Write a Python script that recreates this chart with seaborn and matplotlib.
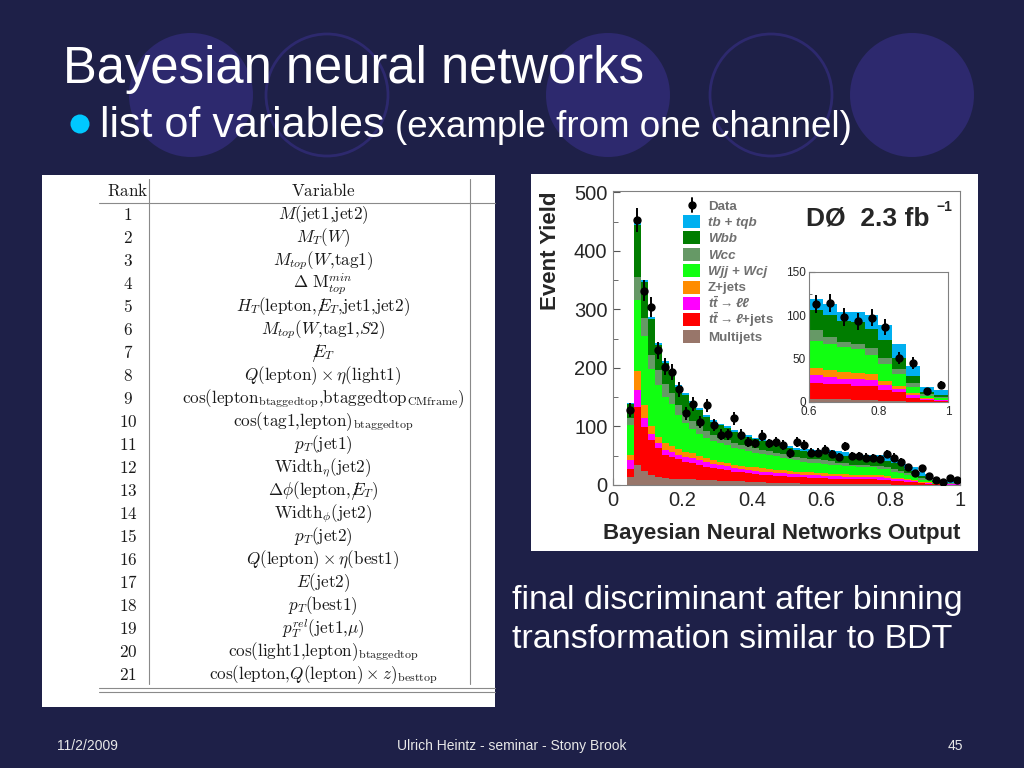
import numpy as np
import pandas as pd
import matplotlib
matplotlib.use("Agg")
import matplotlib.pyplot as plt
from matplotlib.patches import Circle, Rectangle
import seaborn as sns

sns.set_style("white")
plt.rcParams['font.family'] = ['Liberation Sans', 'DejaVu Sans']
plt.rcParams['mathtext.fontset'] = 'custom'
plt.rcParams['mathtext.rm'] = 'Liberation Sans:bold'
plt.rcParams['mathtext.it'] = 'Liberation Sans:italic:bold'
plt.rcParams['mathtext.bf'] = 'Liberation Sans:bold'

# Histogram: 48 bins of 0.02 from 0.04 to 1.0
bin_edges = np.linspace(0.04, 1.0, 49)
bin_centers = bin_edges[:-1] + 0.01

data_counts = [128, 453, 332, 304, 230, 202, 193, 164, 123, 138,
               108, 136, 103, 86, 87, 114, 86, 74, 71, 84,
               71, 74, 68, 54, 73, 68, 55, 55, 60, 53,
               48, 66, 49, 49, 47, 46, 44, 53, 47, 40,
               30, 21, 29, 16, 8, 5, 12, 8]

# stack tops (cumulative, from the top layer down)
top_tb = [140, 448, 350, 287, 243, 212, 196, 171, 157, 143,
          131, 120, 111, 105, 100, 94, 89.5, 85.5, 81, 78,
          74.5, 72, 69, 66, 64, 62, 61, 60, 60, 59,
          57.5, 56, 52.5, 51.5, 52, 52, 50.5, 49.5, 46, 42.5,
          35.5, 31.5, 22.5, 19.5, 9, 8.3, 7, 6.5]
top_wbb = [139, 445, 347, 284, 240, 209, 193, 168, 154, 140,
           128, 117, 108, 102, 97, 91, 86.5, 82.5, 78, 75,
           71.5, 69, 66, 62.5, 60.5, 58, 56.5, 55, 54, 52.5,
           50.5, 49.5, 47.3, 46.7, 46.3, 45.7, 43, 41.6, 37, 34,
           27, 24, 16, 13.6, 6, 5.5, 4, 3.7]
top_wcc = [115, 355, 285, 222, 197, 172, 158, 137, 123, 110,
           100, 92, 86, 81, 77, 72, 69, 66, 63, 60,
           57.5, 55, 53, 50, 48, 46, 45, 44, 42, 40.7,
           38, 37, 34.7, 34.3, 33.7, 33.3, 31.8, 30.9, 26.5, 24.5,
           20.5, 18, 12, 10.3, 4.6, 4.2, 3, 2.8]
top_wjj = [102, 316, 254, 199, 171, 150, 138, 120, 106, 95,
           87, 80, 75, 71, 68, 64, 61, 58, 55.5, 53,
           51, 49, 47, 44.5, 42.5, 40, 38, 37, 35.5, 34.5,
           34, 33, 32, 31.5, 31, 30.5, 27.5, 26.5, 23, 21,
           17.4, 15.3, 9.3, 8, 3.6, 3.4, 2.4, 2.2]
top_z = [51, 194, 136, 100, 82, 71, 66, 61, 57, 54,
         50, 46, 43, 40, 38, 35, 33, 31, 30, 28.5,
         27, 26, 25, 24, 23, 22, 21.5, 21, 20, 19.6,
         18.5, 18, 17.4, 17.2, 16.8, 16.7, 16.5, 16.2, 12.5, 11.5,
         10, 9, 5.6, 4.8, 2.4, 2.2, 1.4, 1.3]
top_ttll = [42, 162, 115, 88, 71, 60, 56, 52, 48.5, 46,
            42, 39, 36, 34, 32, 29.5, 28, 26, 24.5, 23,
            22, 21, 20, 19.5, 19, 17.5, 17, 16.5, 15.5, 15.3,
            14.6, 14.4, 13.6, 13.4, 13, 13, 13, 12.8, 10.4, 9.6,
            8, 7.4, 4.1, 3.6, 2, 1.8, 1.2, 1.1]
top_ttlj = [28, 134, 99, 77, 63, 51, 47.5, 44, 40, 37,
            34, 31, 29, 27, 25, 23, 21.5, 20, 18.5, 17,
            16.5, 16, 15, 14.5, 14, 13, 12.5, 12, 11.3, 11,
            10.6, 10.4, 10.3, 10.1, 9.5, 9.5, 9.1, 8.9, 7.3, 6.7,
            5.8, 5.2, 2.7, 2.3, 1.4, 1.3, 0.8, 0.7]
top_mj = [13, 34, 24, 17, 14, 11.5, 11, 10.5, 10, 9.5,
          9, 8.5, 8, 7.5, 7, 6.5, 6, 5.5, 5, 4.5,
          4, 3.8, 3.5, 3.2, 3, 2.5, 2.2, 2, 1.5, 1.5,
          1.5, 1.5, 1.5, 1.5, 1.3, 1.2, 1, 1, 0.8, 0.7,
          0.5, 0.5, 0.3, 0.2, 0.2, 0.1, 0.1, 0.1]

procs = ['tb + tqb', 'Wbb', 'Wcc', 'Wjj + Wcj', 'Z+jets', 'ttll', 'ttlj', 'Multijets']
proc_colors = {'tb + tqb': '#00b0f0', 'Wbb': '#007d00', 'Wcc': '#669966',
               'Wjj + Wcj': '#11ff11', 'Z+jets': '#ff8c00', 'ttll': '#ff00ff',
               'ttlj': '#ff0000', 'Multijets': '#98766a'}
legend_labels = ['Data', 'tb + tqb', 'Wbb', 'Wcc', 'Wjj + Wcj', 'Z+jets',
                 r'$t\bar{t}\rightarrow\ell\ell$', r'$t\bar{t}\rightarrow\ell$+jets', 'Multijets']

# table
ranks = [str(i) for i in range(1, 22)]
variables = [
    r'$M(\mathrm{jet1{,}jet2})$',
    r'$M_T(W)$',
    r'$M_{top}(W{,}\mathrm{tag1})$',
    r'$\Delta\ \mathrm{M}_{top}^{min}$',
    r'$H_T(\mathrm{lepton}{,}/\!\!\!E_T{,}\mathrm{jet1{,}jet2})$',
    r'$M_{top}(W{,}\mathrm{tag1}{,}S2)$',
    r'$/\!\!\!E_T$',
    r'$Q(\mathrm{lepton})\times\eta(\mathrm{light1})$',
    r'$\cos(\mathrm{lepton_{btaggedtop}{,}btaggedtop_{CMframe}})$',
    r'$\cos(\mathrm{tag1{,}lepton})_\mathrm{btaggedtop}$',
    r'$p_T(\mathrm{jet1})$',
    r'$\mathrm{Width}_\eta(\mathrm{jet2})$',
    r'$\Delta\phi(\mathrm{lepton}{,}/\!\!\!E_T)$',
    r'$\mathrm{Width}_\phi(\mathrm{jet2})$',
    r'$p_T(\mathrm{jet2})$',
    r'$Q(\mathrm{lepton})\times\eta(\mathrm{best1})$',
    r'$E(\mathrm{jet2})$',
    r'$p_T(\mathrm{best1})$',
    r'$p_T^{rel}(\mathrm{jet1}{,}\mu)$',
    r'$\cos(\mathrm{light1{,}lepton})_\mathrm{btaggedtop}$',
    r'$\cos(\mathrm{lepton}{,}Q(\mathrm{lepton})\times z)_\mathrm{besttop}$',
]

# component yields from the cumulative tops
tops = np.array([top_tb, top_wbb, top_wcc, top_wjj, top_z, top_ttll, top_ttlj, top_mj])
yields = tops - np.vstack([tops[1:], np.zeros(len(bin_centers))])
rows = []
for p, y in zip(procs, yields):
    for xc, v in zip(bin_centers, y):
        rows.append({'bnn': xc, 'yield': v, 'process': p})
df = pd.DataFrame(rows)

data_counts = np.array(data_counts, dtype=float)
inset_data = data_counts[28:].reshape(10, 2).sum(axis=1)
inset_centers = np.linspace(0.62, 0.98, 10)

# ---------------- figure ----------------
bg_col = '#1e2048'
fig = plt.figure(figsize=(10.24, 7.68), dpi=100, facecolor=bg_col)
bg = fig.add_axes([0, 0, 1, 1], zorder=0)
bg.set_xlim(0, 1024)
bg.set_ylim(768, 0)
bg.axis('off')

circ_col = '#2d296e'
for cx in [191, 608, 912]:
    bg.add_patch(Circle((cx, 95), 62, facecolor=circ_col, edgecolor='none'))
for cx in [327, 771]:
    bg.add_patch(Circle((cx, 95), 61, facecolor='none', edgecolor=circ_col, lw=2))

bg.text(63, 83, 'Bayesian neural networks', color='white', fontsize=36.5, va='baseline')
bg.add_patch(Circle((80, 124), 9.5, facecolor='#00c8ff', edgecolor='none'))
bg.text(100, 137, 'list of variables', color='white', fontsize=31, va='baseline')
bg.text(395, 137, '(example from one channel)', color='white', fontsize=26.5, va='baseline')

bg.text(512, 609, 'final discriminant after binning', color='white', fontsize=24.5, va='baseline')
bg.text(512, 648, 'transformation similar to BDT', color='white', fontsize=24.5, va='baseline')

bg.text(57, 750, '11/2/2009', color='#e8e8e8', fontsize=10, va='baseline')
bg.text(512, 750, 'Ulrich Heintz - seminar - Stony Brook', color='#e8e8e8', fontsize=10,
        va='baseline', ha='center')
bg.text(955, 750, '45', color='#e8e8e8', fontsize=10, va='baseline', ha='center')

# table panel
bg.add_patch(Rectangle((42, 175), 453, 532, facecolor='white', edgecolor='none'))
line_col = '#8a8a8a'
bg.plot([99, 495], [203, 203], color=line_col, lw=0.8)
bg.plot([99, 495], [688, 688], color=line_col, lw=0.8)
bg.plot([99, 495], [691.5, 691.5], color=line_col, lw=0.8)
bg.plot([149, 149], [179, 684], color=line_col, lw=0.8)
bg.plot([470, 470], [179, 684], color=line_col, lw=0.8)
tab_fs = 12.3
bg.text(128, 191, r'$\mathrm{Rank}$', math_fontfamily='cm', fontsize=tab_fs, ha='center', va='center', color='#1a1a1a')
bg.text(323, 191, r'$\mathrm{Variable}$', math_fontfamily='cm', fontsize=tab_fs, ha='center', va='center', color='#1a1a1a')
for i, (r, v) in enumerate(zip(ranks, variables)):
    yy = 215 + 23 * i
    bg.text(128, yy, r'$\mathrm{' + r + '}$', math_fontfamily='cm', fontsize=tab_fs,
            ha='center', va='center', color='#1a1a1a')
    bg.text(323, yy, v, math_fontfamily='cm', fontsize=tab_fs, ha='center', va='center', color='#1a1a1a')

# histogram panel
bg.add_patch(Rectangle((531, 174), 447, 377, facecolor='white', edgecolor='none'))
bg.text(551, 251, 'Event Yield', rotation=90, fontsize=16, fontweight='bold', ha='center', va='center')
bg.text(960, 533, 'Bayesian Neural Networks Output', fontsize=16, fontweight='bold', ha='right', va='center')

# legend, rows evenly spaced like the ROOT legend
leg_y0, leg_dy = 205, 16.4
for k, lab in enumerate(legend_labels):
    yk = leg_y0 + leg_dy * k
    if k == 0:
        bg.plot([691.5, 691.5], [yk - 7, yk + 7], color='black', lw=1.4, zorder=6)
        bg.plot([691.5], [yk], 'o', color='black', ms=5, zorder=6)
    else:
        bg.add_patch(Rectangle((683, yk - 6.5), 17, 13, facecolor=proc_colors[procs[k - 1]],
                               edgecolor='none', zorder=6))
    bg.text(708, yk + 4.5, lab, fontsize=9.6, fontweight='bold', color='#707070',
            style='italic' if k in (1, 2, 3, 4) else 'normal', va='baseline', zorder=6)

bg.text(806, 226, 'D\u00d8  2.3 fb', fontsize=19, fontweight='bold', va='baseline', zorder=5)
bg.text(936, 200, '\u22121', fontsize=10, fontweight='bold', va='top', zorder=5)

ax = fig.add_axes([613 / 1024, 1 - 485 / 768, 347 / 1024, 294 / 768], zorder=2)
ax.set_facecolor('none')
sns.histplot(data=df, x='bnn', weights='yield', hue='process', hue_order=procs,
             multiple='stack', bins=48, binrange=(0.04, 1.0), element='step', fill=True,
             palette=proc_colors, alpha=1, linewidth=0, legend=False, ax=ax)
ax.errorbar(bin_centers, data_counts, yerr=np.sqrt(data_counts), fmt='o', color='black',
            ms=5, elinewidth=1.4, capsize=0, zorder=5)
ax.set_xlim(0, 1)
ax.set_ylim(0, 502.5)
ax.set_xlabel('')
ax.set_ylabel('')
ax.set_xticks([0, 0.2, 0.4, 0.6, 0.8, 1.0], ['0', '0.2', '0.4', '0.6', '0.8', '1'])
ax.set_xticks(np.arange(0, 1.001, 0.05), minor=True)
ax.set_yticks([0, 100, 200, 300, 400, 500])
ax.set_yticks([50, 150, 250, 350, 450], minor=True)
ax.tick_params(which='both', direction='in', color='#555555', labelsize=14.5, pad=4,
               bottom=True, left=True)
ax.tick_params(which='major', length=5)
ax.tick_params(which='minor', length=3.5)
for s in ax.spines.values():
    s.set_color('#808080')
    s.set_linewidth(0.8)

# inset with coarser bins
ax_in = fig.add_axes([809 / 1024, 1 - 402 / 768, 139 / 1024, 130 / 768], zorder=3)
ax_in.set_facecolor('white')
sns.histplot(data=df[df['bnn'] > 0.6], x='bnn', weights='yield', hue='process', hue_order=procs,
             multiple='stack', bins=10, binrange=(0.6, 1.0), element='step', fill=True,
             palette=proc_colors, alpha=1, linewidth=0, legend=False, ax=ax_in)
ax_in.errorbar(inset_centers, inset_data, yerr=np.sqrt(inset_data), fmt='o', color='black',
               ms=5, elinewidth=1.4, capsize=0, zorder=5)
ax_in.set_xlim(0.6, 1.0)
ax_in.set_ylim(0, 150)
ax_in.set_xlabel('')
ax_in.set_ylabel('')
ax_in.set_xticks([0.6, 0.8, 1.0], ['0.6', '0.8', '1'])
ax_in.set_xticks(np.arange(0.6, 1.001, 0.05), minor=True)
ax_in.set_yticks([0, 50, 100, 150])
ax_in.set_yticks([25, 75, 125], minor=True)
ax_in.tick_params(which='both', direction='in', color='#555555', labelsize=8.5, pad=2,
                  bottom=True, left=True)
ax_in.tick_params(axis='x', pad=3)
ax_in.tick_params(which='major', length=4)
ax_in.tick_params(which='minor', length=2.5)
for s in ax_in.spines.values():
    s.set_color('#808080')
    s.set_linewidth(0.8)

fig.savefig('out.png', dpi=100, facecolor=fig.get_facecolor())
